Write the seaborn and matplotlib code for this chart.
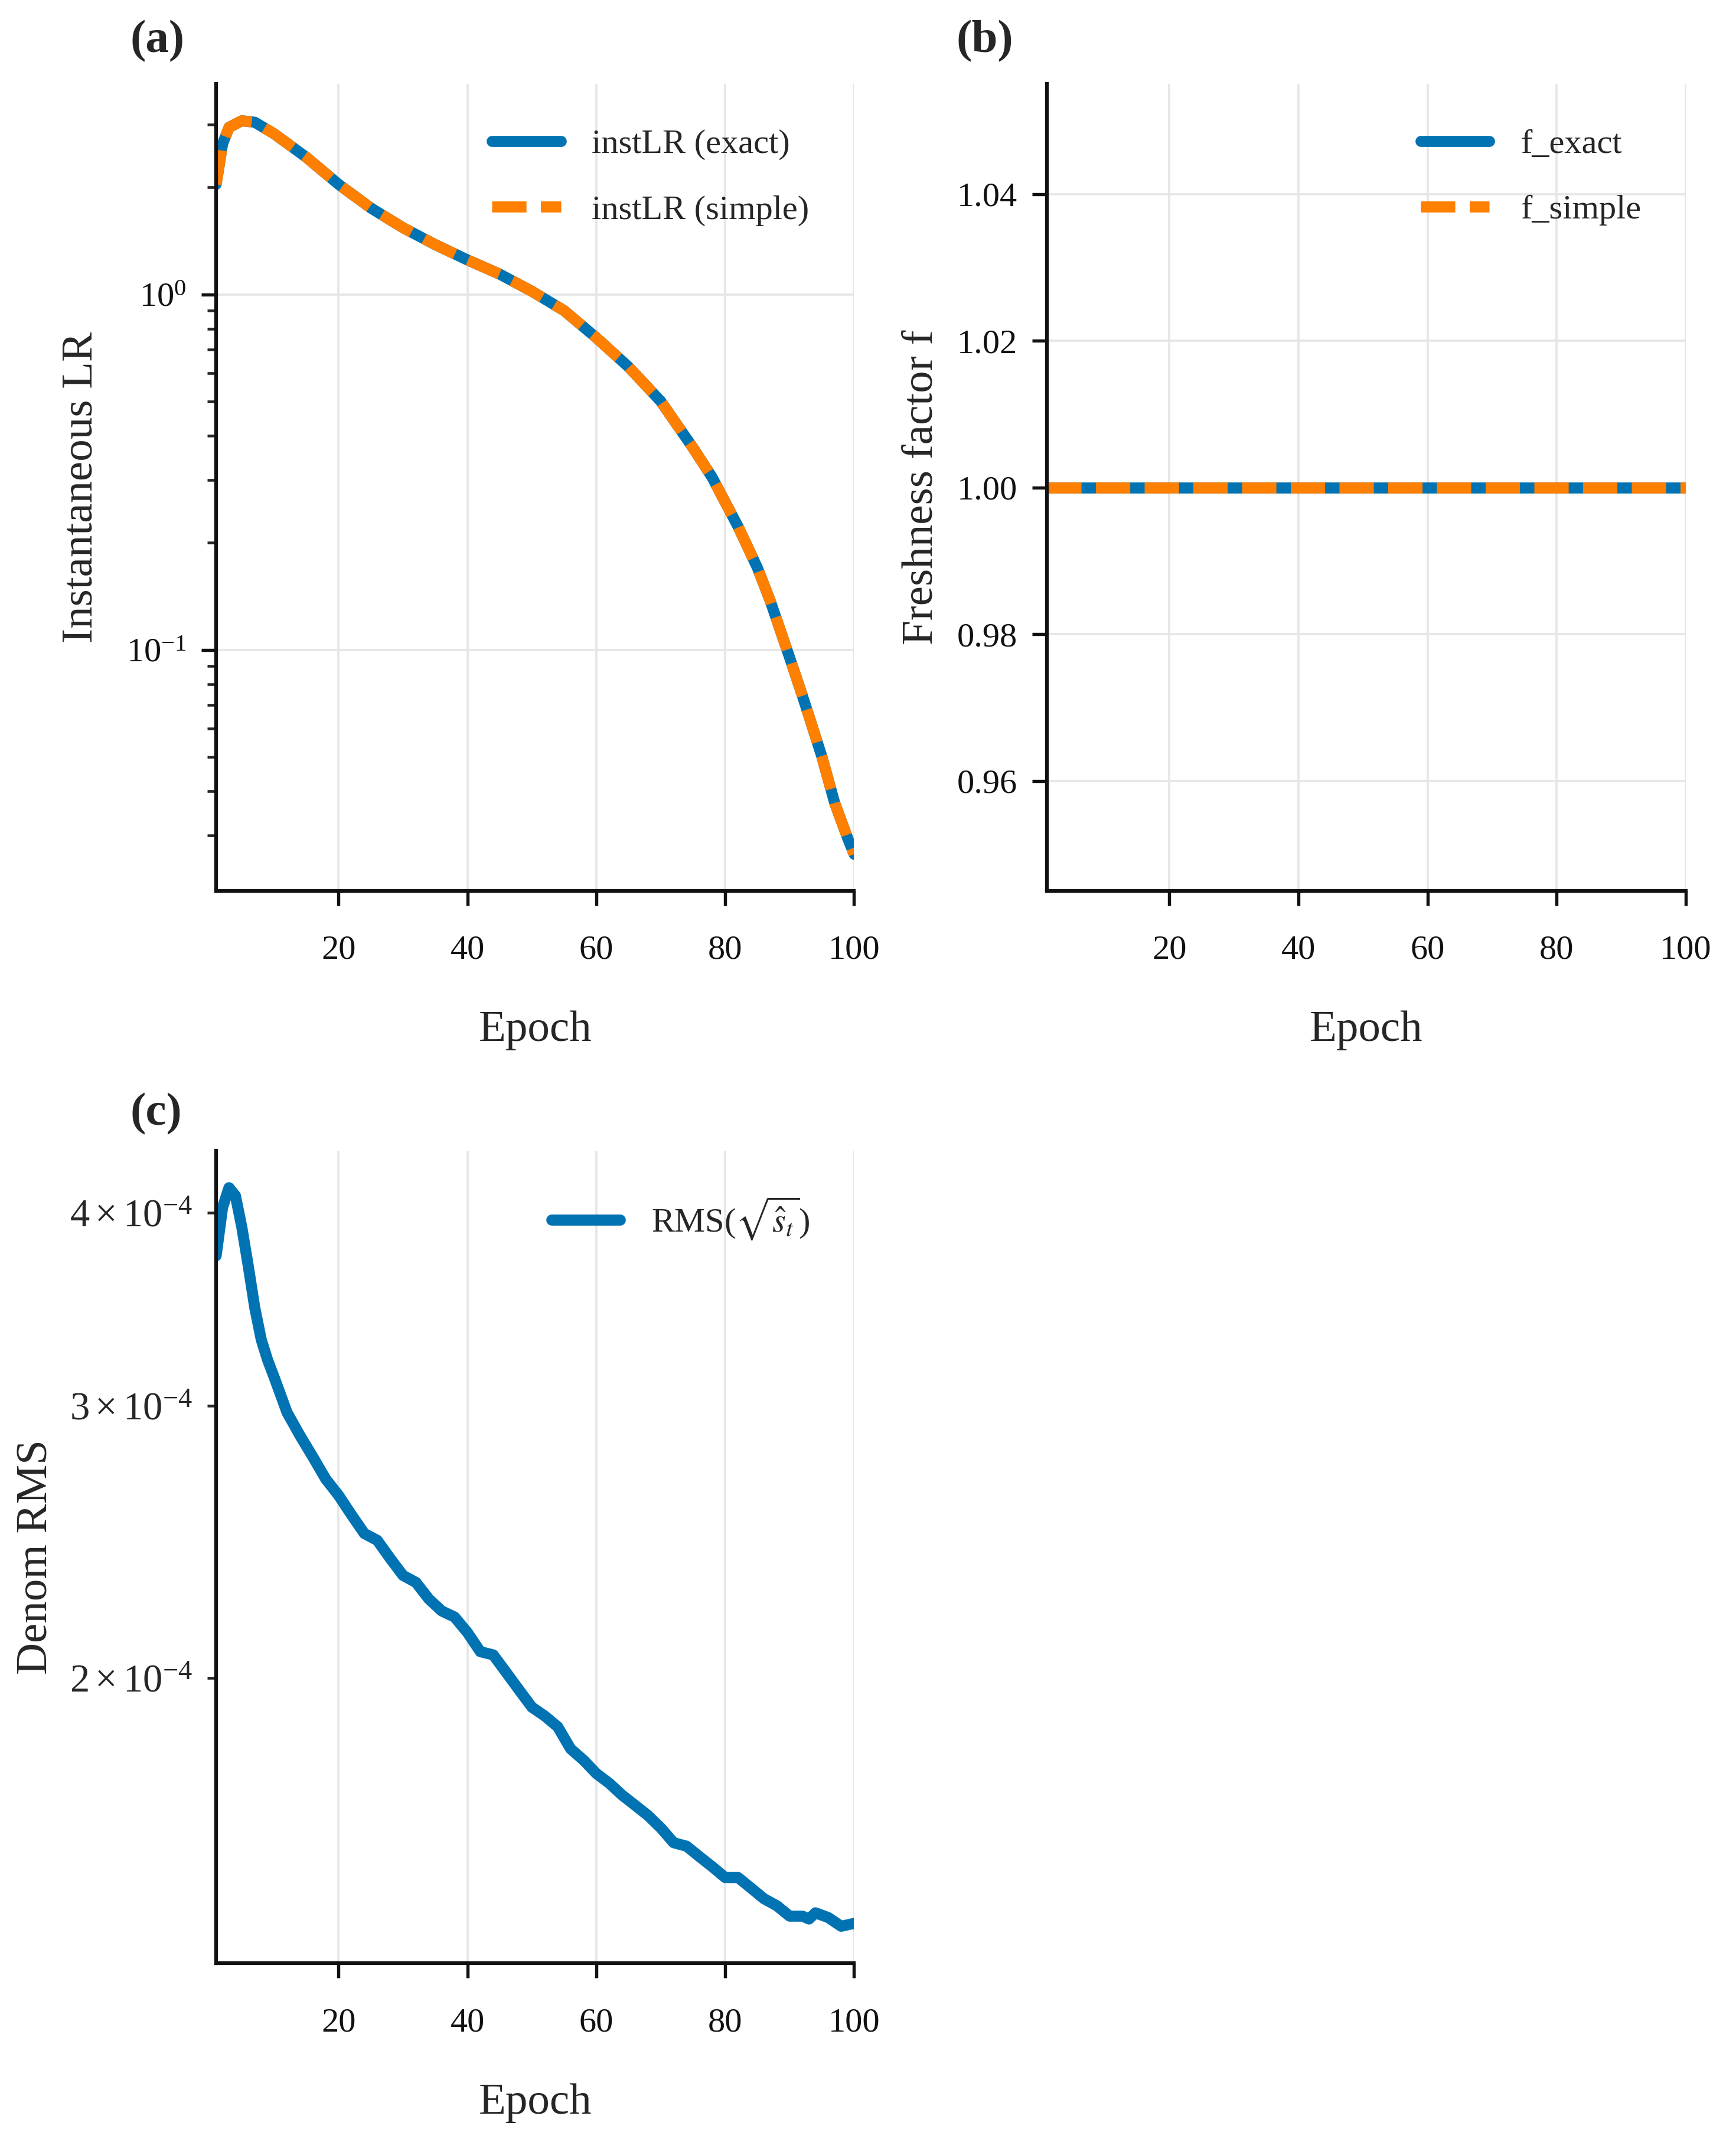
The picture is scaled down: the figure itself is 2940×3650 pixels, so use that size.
import numpy as np
import pandas as pd
import seaborn as sns
import matplotlib.pyplot as plt

# (a) instantaneous LR
epochs_a = [1, 2, 3, 5, 7, 10, 15, 20, 25, 30, 35, 40, 45, 50, 55, 60,
            65, 70, 75, 78, 80, 82, 85, 87, 90, 92, 93, 95, 97, 99, 100]
inst_lr_exact = [2.04, 2.65, 2.95, 3.08, 3.05, 2.83, 2.43, 2.04, 1.75, 1.54,
                 1.38, 1.25, 1.14, 1.02, 0.90, 0.755, 0.625, 0.50, 0.37, 0.305,
                 0.26, 0.222, 0.17, 0.137, 0.095, 0.074, 0.065, 0.050, 0.037,
                 0.0295, 0.0266]
inst_lr_simple = [2.04, 2.65, 2.95, 3.08, 3.05, 2.83, 2.43, 2.04, 1.75, 1.54,
                  1.38, 1.25, 1.14, 1.02, 0.90, 0.755, 0.625, 0.50, 0.37, 0.305,
                  0.26, 0.222, 0.17, 0.137, 0.095, 0.074, 0.065, 0.050, 0.037,
                  0.0295, 0.0266]

# (b) freshness factor
epochs_b = [1, 100]
f_exact = [1.0, 1.0]
f_simple = [1.0, 1.0]

# (c) denominator RMS
epochs_c = [1, 2, 3, 4, 5, 6, 7, 8, 9, 10, 12, 14, 16, 18, 20, 22, 24, 26,
            28, 30, 32, 34, 36, 38, 40, 42, 44, 46, 48, 50, 52, 54, 56, 58,
            60, 62, 64, 66, 68, 70, 72, 74, 76, 78, 80, 82, 84, 86, 88, 90,
            92, 93, 94, 96, 98, 100]
denom_rms = [3.75e-4, 4.03e-4, 4.15e-4, 4.10e-4, 3.91e-4, 3.69e-4, 3.47e-4,
             3.31e-4, 3.21e-4, 3.13e-4, 2.97e-4, 2.87e-4, 2.78e-4, 2.69e-4,
             2.625e-4, 2.55e-4, 2.48e-4, 2.455e-4, 2.39e-4, 2.33e-4, 2.306e-4,
             2.25e-4, 2.21e-4, 2.19e-4, 2.14e-4, 2.08e-4, 2.07e-4, 2.017e-4,
             1.965e-4, 1.915e-4, 1.89e-4, 1.86e-4, 1.80e-4, 1.77e-4, 1.735e-4,
             1.71e-4, 1.68e-4, 1.655e-4, 1.63e-4, 1.60e-4, 1.565e-4, 1.557e-4,
             1.533e-4, 1.51e-4, 1.486e-4, 1.486e-4, 1.463e-4, 1.44e-4,
             1.425e-4, 1.403e-4, 1.403e-4, 1.397e-4, 1.41e-4, 1.40e-4,
             1.382e-4, 1.388e-4]

sns.set_theme(style="ticks")
plt.rcParams['font.family'] = ['Liberation Serif', 'DejaVu Serif']
plt.rcParams['mathtext.fontset'] = 'stix'
plt.rcParams['xtick.major.pad'] = 12
plt.rcParams['ytick.major.pad'] = 6
plt.rcParams['ytick.minor.pad'] = 6
plt.rcParams['xtick.major.size'] = 6
plt.rcParams['ytick.major.size'] = 6
plt.rcParams['ytick.minor.size'] = 3.5
plt.rcParams['xtick.major.width'] = 1.3
plt.rcParams['ytick.major.width'] = 1.3
plt.rcParams['ytick.minor.width'] = 1.1
plt.rcParams['axes.linewidth'] = 1.5
plt.rcParams['axes.edgecolor'] = '#111111'

blue = "#0173b2"
orange = "#ff7f00"
lw = 4.5
dash = (3.1, 1.3)

fig = plt.figure(figsize=(9.8, 3650 / 300), dpi=300)
ax_a = fig.add_axes([0.1245, 0.5866, 0.3675, 0.3744])
ax_b = fig.add_axes([0.603, 0.5866, 0.368, 0.3744])
ax_c = fig.add_axes([0.1245, 0.089, 0.3675, 0.377])

df_a = pd.DataFrame({"epoch": epochs_a, "exact": inst_lr_exact, "simple": inst_lr_simple})
sns.lineplot(data=df_a, x="epoch", y="exact", ax=ax_a, color=blue, lw=lw,
             solid_capstyle="round", solid_joinstyle="round", label="instLR (exact)")
sns.lineplot(data=df_a, x="epoch", y="simple", ax=ax_a, color=orange, lw=lw,
             dashes=dash, label="instLR (simple)")
ax_a.set_yscale("log")
ax_a.set_ylabel("Instantaneous LR")

df_b = pd.DataFrame({"epoch": epochs_b, "exact": f_exact, "simple": f_simple})
sns.lineplot(data=df_b, x="epoch", y="exact", ax=ax_b, color=blue, lw=lw,
             solid_capstyle="round", label="f_exact")
sns.lineplot(data=df_b, x="epoch", y="simple", ax=ax_b, color=orange, lw=lw,
             dashes=dash, label="f_simple")
ax_b.set_ylabel("Freshness factor f")

df_c = pd.DataFrame({"epoch": epochs_c, "rms": denom_rms})
sns.lineplot(data=df_c, x="epoch", y="rms", ax=ax_c, color=blue, lw=lw,
             solid_capstyle="round", solid_joinstyle="round",
             label=r"RMS($\sqrt{\hat{s}_t}$)")
ax_c.set_yscale("log")
ax_c.set_ylabel("Denom RMS")

ylabel_x = {ax_a: -0.18, ax_b: -0.165, ax_c: -0.25}
for ax in (ax_a, ax_b, ax_c):
    ax.set_xlim(1, 100)
    ax.set_xticks([20, 40, 60, 80, 100])
    ax.set_xlabel("Epoch", fontsize=18)
    ax.yaxis.label.set_size(18)
    ax.xaxis.set_label_coords(0.5, -0.148)
    ax.yaxis.set_label_coords(ylabel_x[ax], 0.5)
    ax.tick_params(labelsize=14, colors="#111111")
    ax.tick_params(which="minor", labelsize=14)
    ax.grid(True, which="major", color="#e6e6e6", lw=0.9)
    ax.legend(loc="upper right", frameon=False, fontsize=14, handlelength=2.0,
              labelspacing=1.0, borderaxespad=0.9, handletextpad=0.9)
    sns.despine(ax=ax)

ax_c.tick_params(which="minor", labelsize=16)

fig.text(0.075, 0.981, "(a)", fontsize=19, fontweight="bold", va="center")
fig.text(0.551, 0.981, "(b)", fontsize=19, fontweight="bold", va="center")
fig.text(0.075, 0.483, "(c)", fontsize=19, fontweight="bold", va="center")

fig.savefig("out.png", dpi=300)
